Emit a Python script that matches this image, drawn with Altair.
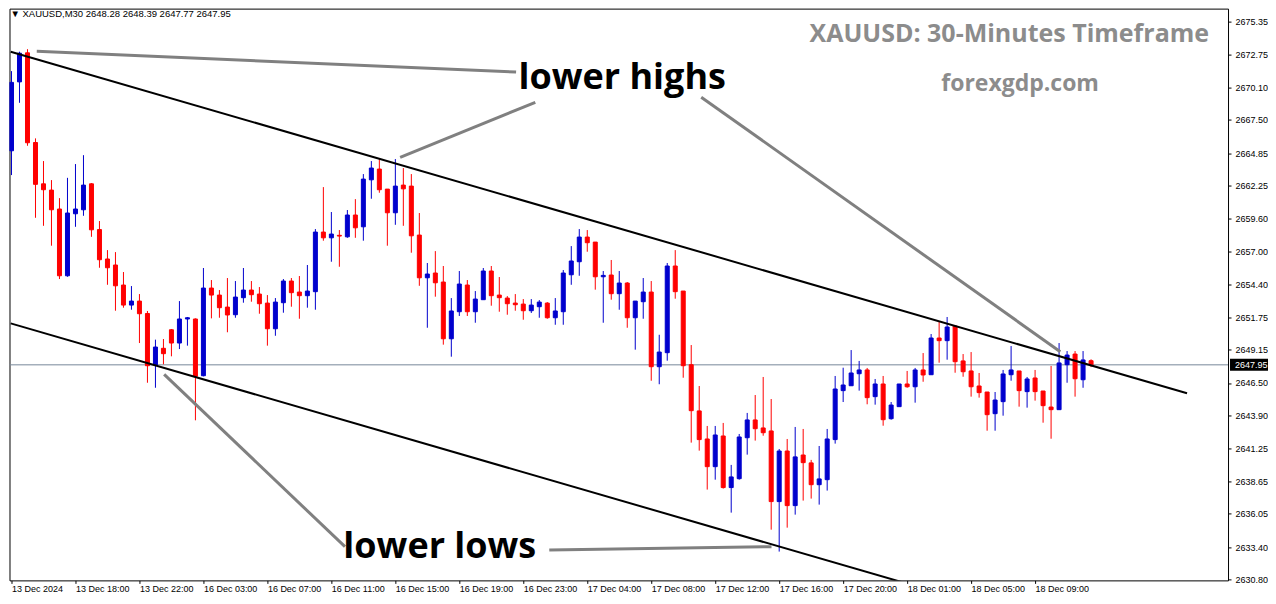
import altair as alt
import pandas as pd

# ---------------- data ----------------
opens = [2665.04, 2670.54, 2672.86, 2665.70, 2662.40, 2661.90, 2660.39, 2655.06, 2660.01, 2660.33,
         2662.40, 2658.75, 2656.40, 2655.92, 2654.32, 2652.72, 2653.04, 2652.05, 2647.94, 2649.27,
         2650.75, 2649.69, 2651.61, 2651.61, 2647.08, 2654.08, 2653.52, 2652.56, 2651.95, 2653.31,
         2653.92, 2653.60, 2652.88, 2650.83, 2652.91, 2654.64, 2653.76, 2653.47, 2653.79, 2658.55,
         2658.09, 2658.29, 2658.17, 2659.91, 2658.97, 2662.72, 2663.58, 2661.98, 2660.09, 2662.30,
         2662.22, 2658.31, 2654.90, 2655.28, 2654.56, 2650.03, 2652.19, 2654.32, 2652.19, 2653.15,
         2655.44, 2653.52, 2653.28, 2652.88, 2652.80, 2652.27, 2652.59, 2652.88, 2651.71, 2652.19,
         2655.14, 2656.18, 2658.15, 2657.75, 2654.98, 2655.12, 2653.63, 2654.48, 2651.71, 2652.99,
         2653.76, 2647.80, 2648.92, 2655.84, 2653.84, 2647.96, 2644.27, 2642.03, 2639.82, 2642.27,
         2638.15, 2638.86, 2642.13, 2643.55, 2642.91, 2642.67, 2637.03, 2641.07, 2636.71, 2640.75,
         2640.12, 2638.38, 2638.78, 2641.98, 2645.89, 2646.28, 2647.24, 2647.54, 2645.41, 2646.42,
         2643.65, 2644.61, 2646.42, 2646.20, 2647.54, 2647.16, 2650.09, 2649.88, 2651.05, 2648.26,
         2647.46, 2646.26, 2645.78, 2644.05, 2645.01, 2647.16, 2647.46, 2645.81, 2646.90, 2645.86,
         2644.58, 2644.37, 2647.96, 2648.81, 2646.76, 2648.28]

highs = [2671.40, 2672.95, 2673.15, 2666.03, 2664.22, 2662.70, 2661.26, 2662.88, 2663.98, 2664.69,
         2662.46, 2659.43, 2657.11, 2656.95, 2655.36, 2654.24, 2653.60, 2652.25, 2649.96, 2650.01,
         2650.81, 2653.04, 2651.77, 2651.66, 2655.68, 2654.72, 2653.92, 2654.88, 2654.64, 2655.68,
         2654.64, 2654.16, 2653.52, 2653.28, 2654.80, 2654.88, 2655.04, 2655.92, 2658.79, 2662.14,
         2660.15, 2658.71, 2660.31, 2661.18, 2663.18, 2664.22, 2664.45, 2661.98, 2664.38, 2663.66,
         2663.18, 2660.07, 2656.08, 2657.03, 2655.84, 2653.28, 2655.44, 2654.72, 2653.84, 2655.68,
         2655.84, 2654.96, 2653.44, 2653.60, 2653.20, 2653.20, 2653.12, 2652.96, 2653.28, 2655.52,
         2657.43, 2658.79, 2658.71, 2657.75, 2655.44, 2656.32, 2655.44, 2654.56, 2653.04, 2654.88,
         2654.64, 2650.35, 2656.08, 2657.11, 2653.84, 2649.53, 2646.26, 2643.07, 2643.07, 2643.31,
         2639.96, 2642.43, 2644.11, 2645.54, 2646.98, 2645.22, 2641.23, 2642.03, 2642.99, 2642.83,
         2640.36, 2641.47, 2642.83, 2647.06, 2647.72, 2649.13, 2648.26, 2647.70, 2646.82, 2647.06,
         2644.98, 2646.42, 2647.46, 2647.70, 2648.89, 2650.41, 2651.45, 2651.77, 2651.05, 2648.81,
         2648.97, 2647.30, 2645.78, 2645.78, 2647.54, 2649.45, 2647.46, 2646.98, 2647.54, 2645.86,
         2647.86, 2649.69, 2649.05, 2649.05, 2649.05, 2648.39]

lows = [2663.10, 2668.87, 2665.44, 2659.69, 2659.05, 2657.46, 2654.80, 2654.98, 2658.97, 2659.85,
        2658.17, 2655.70, 2654.34, 2652.27, 2652.51, 2652.35, 2649.69, 2646.52, 2646.12, 2647.99,
        2648.63, 2649.21, 2649.48, 2643.52, 2647.03, 2651.66, 2651.71, 2650.55, 2651.71, 2652.91,
        2652.99, 2652.03, 2649.48, 2650.27, 2652.11, 2652.59, 2651.63, 2652.51, 2652.35, 2657.86,
        2656.18, 2655.78, 2658.09, 2658.09, 2657.86, 2661.21, 2661.69, 2657.46, 2659.13, 2659.05,
        2656.90, 2654.26, 2650.91, 2653.39, 2649.56, 2648.60, 2651.85, 2651.85, 2651.31, 2653.15,
        2652.67, 2652.19, 2651.95, 2652.27, 2651.55, 2652.09, 2651.71, 2651.63, 2651.15, 2651.15,
        2654.34, 2655.06, 2656.98, 2653.95, 2651.31, 2653.15, 2652.35, 2650.91, 2649.16, 2651.63,
        2646.68, 2646.40, 2648.28, 2653.23, 2646.92, 2641.74, 2641.10, 2637.99, 2638.78, 2638.07,
        2636.15, 2638.78, 2640.78, 2641.90, 2642.29, 2634.79, 2633.04, 2634.95, 2635.99, 2637.11,
        2637.27, 2636.79, 2637.91, 2641.66, 2644.98, 2646.28, 2645.89, 2644.80, 2644.77, 2643.09,
        2643.57, 2644.61, 2646.12, 2644.93, 2646.60, 2647.16, 2648.12, 2648.36, 2647.32, 2647.00,
        2645.41, 2645.33, 2642.69, 2642.69, 2643.89, 2646.68, 2644.61, 2644.53, 2645.09, 2643.33,
        2642.05, 2644.37, 2646.52, 2645.41, 2646.12, 2647.77]

closes = [2670.50, 2672.83, 2665.68, 2662.36, 2661.93, 2660.33, 2655.06, 2660.07, 2660.39, 2662.30,
          2658.73, 2656.34, 2655.70, 2654.26, 2652.72, 2653.04, 2652.03, 2647.88, 2649.37, 2648.84,
          2649.69, 2651.61, 2651.71, 2647.03, 2654.08, 2653.52, 2652.51, 2651.93, 2653.36, 2653.92,
          2653.55, 2652.83, 2650.83, 2652.96, 2654.64, 2653.71, 2653.47, 2653.84, 2658.55, 2658.09,
          2658.39, 2658.23, 2659.91, 2658.89, 2662.78, 2663.66, 2661.93, 2660.09, 2662.22, 2662.00,
          2658.25, 2654.90, 2655.20, 2654.50, 2650.03, 2652.25, 2654.40, 2652.19, 2653.20, 2655.44,
          2653.47, 2653.31, 2652.83, 2652.75, 2652.27, 2652.72, 2652.96, 2651.71, 2652.25, 2655.28,
          2656.24, 2658.15, 2657.70, 2654.98, 2655.09, 2653.63, 2654.48, 2651.71, 2653.04, 2653.76,
          2647.80, 2648.97, 2655.84, 2653.79, 2647.88, 2644.29, 2641.98, 2639.82, 2642.35, 2638.15,
          2639.00, 2642.19, 2643.55, 2642.85, 2642.53, 2637.03, 2641.07, 2636.71, 2640.60, 2640.14,
          2638.38, 2638.84, 2642.03, 2646.02, 2646.34, 2647.30, 2647.54, 2645.33, 2646.42, 2643.57,
          2644.74, 2646.42, 2646.20, 2647.54, 2647.14, 2650.09, 2649.88, 2650.97, 2648.20, 2647.40,
          2646.20, 2645.73, 2643.97, 2645.14, 2647.22, 2647.54, 2645.89, 2646.82, 2645.81, 2644.69,
          2644.37, 2648.10, 2648.73, 2646.84, 2648.34, 2647.95]

time_labels = ["13 Dec 2024", "13 Dec 18:00", "13 Dec 22:00", "16 Dec 03:00", "16 Dec 07:00",
               "16 Dec 11:00", "16 Dec 15:00", "16 Dec 19:00", "16 Dec 23:00", "17 Dec 04:00",
               "17 Dec 08:00", "17 Dec 12:00", "17 Dec 16:00", "17 Dec 20:00", "18 Dec 01:00",
               "18 Dec 05:00", "18 Dec 09:00"]
bars_per_label = 8

price_ticks = [2630.80, 2633.40, 2636.05, 2638.65, 2641.25, 2643.90, 2646.50, 2649.15, 2651.75,
               2654.40, 2657.00, 2659.60, 2662.25, 2664.85, 2667.50, 2670.10, 2672.75, 2675.35]

last_price = 2647.95
header_text = "▼ XAUUSD,M30  2648.28 2648.39 2647.77 2647.95"
title_text = "XAUUSD: 30-Minutes Timeframe"
site_text = "forexgdp.com"

# channel lines: (line id, bar index, price)
channel_ids = ["upper", "upper", "lower", "lower"]
channel_bars = [-0.1, 147.0, -0.1, 112.0]
channel_prices = [2672.95, 2645.68, 2651.26, 2630.48]

# grey pointer lines
pointer_ids = ["p1", "p1", "p2", "p2", "p3", "p3", "p4", "p4", "p5", "p5"]
pointer_bars = [3.16, 63.1, 48.6, 65.5, 86.25, 131.15, 19.09, 41.7, 67.25, 95.04]
pointer_prices = [2672.99, 2671.32, 2664.51, 2668.91, 2669.32, 2649.00, 2647.19, 2633.43, 2633.17, 2633.43]

note_texts = ["lower highs", "lower lows"]
note_bars = [63.4, 41.5]
note_prices = [2669.96, 2632.51]

# ---------------- tables ----------------
candles = pd.DataFrame({
    "bar": list(range(len(opens))),
    "open": opens, "high": highs, "low": lows, "close": closes,
})
candles["dir"] = ["up" if c > o else "down" for o, c in zip(opens, closes)]

channels = pd.DataFrame({"line": channel_ids, "bar": channel_bars, "price": channel_prices})
pointers = pd.DataFrame({"line": pointer_ids, "bar": pointer_bars, "price": pointer_prices})
notes = pd.DataFrame({"text": note_texts, "bar": note_bars, "price": note_prices})
last_df = pd.DataFrame({"price": [last_price]})

# ---------------- scales / axes ----------------
PLOT_W = 1219
PLOT_H = 572
xscale = alt.Scale(domain=[-0.25, -0.25 + PLOT_W / 8.0], nice=False, zero=False, padding=0)
yscale = alt.Scale(domain=[2630.74, 2676.39], nice=False, zero=False, padding=0)

label_expr = "[" + ",".join("'" + t + "'" for t in time_labels) + \
    "][round(datum.value / %d)]" % bars_per_label

xaxis = alt.Axis(values=[i * bars_per_label for i in range(len(time_labels))],
                 labelExpr=label_expr, title=None, domain=False, grid=False,
                 tickSize=3, tickColor="black", labelFont="Liberation Sans", labelFontSize=9,
                 labelColor="black", labelAlign="left", labelBaseline="top", labelPadding=1,
                 labelFlush=False, labelOverlap=False)
yaxis = alt.Axis(orient="right", values=price_ticks, format=".2f", title=None, domain=False,
                 grid=False, tickSize=3, tickColor="black", labelFont="Liberation Sans",
                 labelFontSize=9, labelColor="black", labelPadding=4, labelFlush=False,
                 labelOverlap=False)

cdom = ["up", "down"]
crange = ["#0000CD", "#FF0000"]


def X(field="bar"):
    return alt.X(field + ":Q", scale=xscale, axis=xaxis)


def Y(field):
    return alt.Y(field + ":Q", scale=yscale, axis=yaxis)


wicks = alt.Chart(candles).mark_rule(strokeWidth=1, clip=True).encode(
    x=X(), y=Y("low"), y2="high:Q",
    color=alt.Color("dir:N", scale=alt.Scale(domain=cdom, range=crange), legend=None),
)
bodies = alt.Chart(candles).mark_bar(size=4, strokeWidth=1, clip=True).encode(
    x=X(), y=Y("open"), y2="close:Q",
    fill=alt.Fill("dir:N", scale=alt.Scale(domain=cdom, range=crange), legend=None),
    stroke=alt.Stroke("dir:N", scale=alt.Scale(domain=cdom, range=crange), legend=None),
)
price_line = alt.Chart(last_df).mark_rule(color="#778899", strokeWidth=1).encode(y=Y("price"))

channel_lines = alt.Chart(channels).mark_line(color="black", strokeWidth=2, clip=True).encode(
    x=X(), y=Y("price"), detail="line:N")
pointer_lines = alt.Chart(pointers).mark_line(color="#808080", strokeWidth=3, clip=True).encode(
    x=X(), y=Y("price"), detail="line:N")

note_marks = alt.Chart(notes).mark_text(
    align="left", baseline="alphabetic", font="Open Sans", fontWeight="bold",
    fontSize=36, color="black").encode(x=X(), y=Y("price"), text="text:N")

box = alt.Chart(last_df).transform_calculate(
    top="datum.price + 0.48", bot="datum.price - 0.48"
).mark_rect(color="black").encode(
    x=alt.value(PLOT_W + 2), x2=alt.value(PLOT_W + 40), y=Y("top"), y2="bot:Q")
box_text = alt.Chart(last_df).mark_text(
    align="left", baseline="middle", color="white", font="Liberation Sans", fontSize=9
).encode(x=alt.value(PLOT_W + 7), y=Y("price"), text=alt.Text("price:Q", format=".2f"))

title_mark = alt.Chart(pd.DataFrame({"t": [title_text]})).mark_text(
    align="right", baseline="alphabetic", font="Open Sans", fontWeight="bold",
    fontSize=25, color="#8c8c8c").encode(x=alt.value(1200), y=alt.value(33), text="t:N")
site_mark = alt.Chart(pd.DataFrame({"t": [site_text]})).mark_text(
    align="center", baseline="alphabetic", font="Open Sans", fontWeight="bold",
    fontSize=23, color="#8c8c8c").encode(x=alt.value(1011), y=alt.value(82), text="t:N")
header_mark = alt.Chart(pd.DataFrame({"t": [header_text]})).mark_text(
    align="left", baseline="middle", font="Liberation Sans", fontSize=9.5,
    color="black").encode(x=alt.value(1), y=alt.value(5), text="t:N")

chart = alt.layer(
    price_line, wicks, bodies, channel_lines, pointer_lines, note_marks,
    box, box_text, title_mark, site_mark, header_mark,
).properties(
    width=PLOT_W, height=PLOT_H,
    padding={"left": 0.5, "top": 0.5, "right": 0, "bottom": 0},
).configure_view(stroke="black", strokeWidth=1)

chart.save("out.html", embed_options={"renderer": "svg", "actions": False})
